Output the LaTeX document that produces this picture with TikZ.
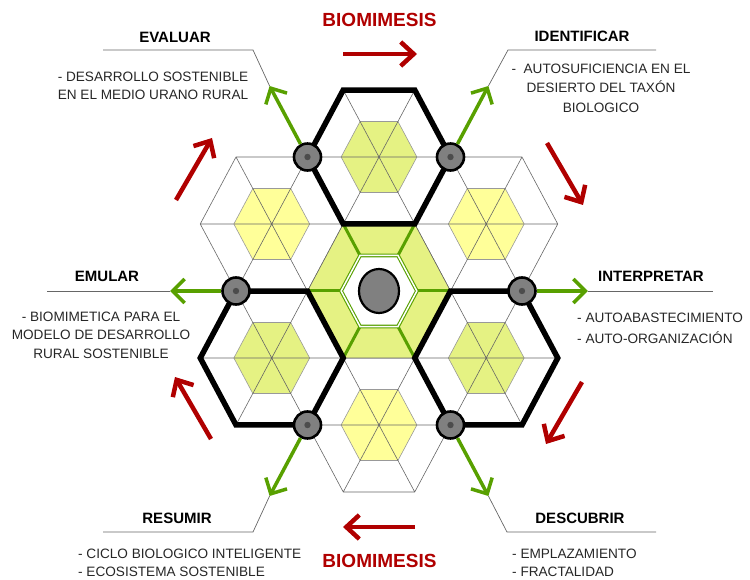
\documentclass[tikz,border=0pt]{standalone}
\usepackage{fontspec}
\setmainfont{Liberation Sans}
\usetikzlibrary{positioning,arrows.meta,calc,shapes.geometric}
\definecolor{bioRed}{HTML}{B00000}
\definecolor{bioGreen}{HTML}{58A000}
\definecolor{hexLime}{HTML}{E5F283}
\definecolor{hexYellow}{HTML}{FFFF99}
\definecolor{knotGray}{HTML}{808080}

\begin{document}
\begin{tikzpicture}[
  x=1pt, y=-1pt,
  font=\fontsize{13.6}{18.5}\selectfont,
  hexp/.style={insert path={(0:#1) -- (60:#1) -- (120:#1) -- (180:#1) -- (240:#1) -- (300:#1) -- cycle}},
  cell/.style={shift={#1}, x=71.5pt, y=77.36pt},
  grid/.style={draw=black!60, line width=0.6pt},
  core/.style={fill=#1, draw=black!40, line width=0.6pt},
  spoke/.style={draw=bioGreen, line width=3pt},
  ring/.style={draw=bioGreen, line width=1.1pt, double=white, double distance=1.5pt, fill=white},
  frame/.style={draw=black, line width=5.5pt},
  knot/.style={circle, fill=knotGray, draw=black, line width=2.6pt, minimum size=27pt, inner sep=0pt,
               path picture={\fill[black!70] (path picture bounding box.center) circle (3.2pt);}},
  hub/.style={ellipse, fill=knotGray, draw=black, line width=2.2pt, minimum width=40pt, minimum height=44pt},
  lead/.style={draw=black!60, line width=0.7pt},
  garr/.style={-{Straight Barb[length=12pt, width=24pt]}, draw=bioGreen, line width=3.5pt},
  rarr/.style={-{Straight Barb[length=13pt, width=24pt]}, draw=bioRed, line width=4.5pt},
  title/.style={font=\fontsize{19}{22}\selectfont\bfseries, text=bioRed, inner sep=0pt},
  stage/.style={font=\fontsize{15}{17}\selectfont\bfseries, inner sep=0pt},
  body/.style={align=center, inner sep=0pt, text=black!85},
]
\useasboundingbox (0,0) rectangle (750,580);

% ---- outer cells ----
\foreach \cx/\cy/\fc in {379/157/hexLime, 271.75/224/hexYellow, 486.25/224/hexYellow,
                         271.75/358/hexLime, 486.25/358/hexLime, 379/425/hexYellow}{
  \begin{scope}[cell={(\cx,\cy)}]
    \path[core=\fc, hexp=0.53];
    \path[grid, hexp=1] (0:1) -- (180:1) (60:1) -- (240:1) (120:1) -- (300:1);
  \end{scope}
}

% ---- central cell ----
\begin{scope}[cell={(379,291)}]
  \path[fill=hexLime, grid, hexp=1];
  \foreach \a in {0,60,...,300} \draw[spoke] (\a:0.53) -- (\a:1);
  \path[ring, hexp=0.53];
  \foreach \a/\r/\n in {0/2.92/tInter, 60/3.06/tIdent, 120/3.06/tEval,
                        180/2.92/tEmul, 240/3.06/tResu, 300/3.06/tDesc}
    \coordinate (\n) at (\a:\r);
\end{scope}

% ---- thick frames ----
\foreach \cx/\cy in {379/157, 271.75/358, 486.25/358}
  \path[cell={(\cx,\cy)}, frame, hexp=1];

% ---- leader lines ----
\draw[lead] (tEval) -- ++(-16.6,-36) -- ++(-150,0);
\draw[lead] (tIdent) -- ++(19.6,-36) -- ++(148,0);
\draw[lead] (tEmul) -- ++(-123,0);
\draw[lead] (tInter) -- ++(125,0);
\draw[lead] (tResu) -- ++(-16.6,36) -- ++(-150,0);
\draw[lead] (tDesc) -- ++(18.6,36) -- ++(149,0);

% ---- knots and hub ----
\begin{scope}[cell={(379,291)}]
  \foreach \a/\n in {0/kInter, 60/kIdent, 120/kEval, 180/kEmul, 240/kResu, 300/kDesc}
    \node[knot] (\n) at (\a:2) {};
  \node[hub] (center) at (0,0) {};
\end{scope}
\foreach \n in {Inter,Ident,Eval,Emul,Resu,Desc}
  \draw[garr] (k\n) -- (t\n);

% ---- cycle arrows ----
\foreach \ax/\ay/\bx/\by in {343/54/417/54, 547/143/583/205, 582/382/546/444,
                             415/527/343/527, 211/439/175/377, 176/200/212/138}
  \draw[rarr] (\ax,\ay) -- (\bx,\by);

% ---- texts ----
\node[title] (bioTop) at (379.5,20) {BIOMIMESIS};
\node[title] (bioBot) at (379.5,561) {BIOMIMESIS};

\node[stage] (evaluar) at (175,37) {EVALUAR};
\node[stage] (identificar) at (582,36) {IDENTIFICAR};
\node[stage] (emular) at (107,276) {EMULAR};
\node[stage] (interpretar) at (651,276) {INTERPRETAR};
\node[stage] (resumir) at (177,518) {RESUMIR};
\node[stage] (descubrir) at (580,518) {DESCUBRIR};

\node[body] (evaluarTxt) at (153,86) {- DESARROLLO SOSTENIBLE\\EN EL MEDIO URANO RURAL};
\node[body, font=\fontsize{13.6}{19.5}\selectfont] (identTxt) at (601,88)
  {-\ \ AUTOSUFICIENCIA EN EL\\DESIERTO DEL TAXÓN\\BIOLOGICO};
\node[body] (emularTxt) at (101,335) {- BIOMIMETICA PARA EL\\MODELO DE DESARROLLO\\RURAL SOSTENIBLE};
\node[body, align=left, anchor=west, font=\fontsize{13.6}{21}\selectfont] (interpTxt) at (577,328)
  {- AUTOABASTECIMIENTO\\- AUTO-ORGANIZACIÓN};
\node[body, align=left, anchor=west, font=\fontsize{13.6}{17.5}\selectfont] (resumirTxt) at (78,563)
  {- CICLO BIOLOGICO INTELIGENTE\\- ECOSISTEMA SOSTENIBLE};
\node[body, align=left, anchor=west, font=\fontsize{13.6}{17.5}\selectfont] (descTxt) at (512,563)
  {- EMPLAZAMIENTO\\- FRACTALIDAD};
\end{tikzpicture}
\end{document}
